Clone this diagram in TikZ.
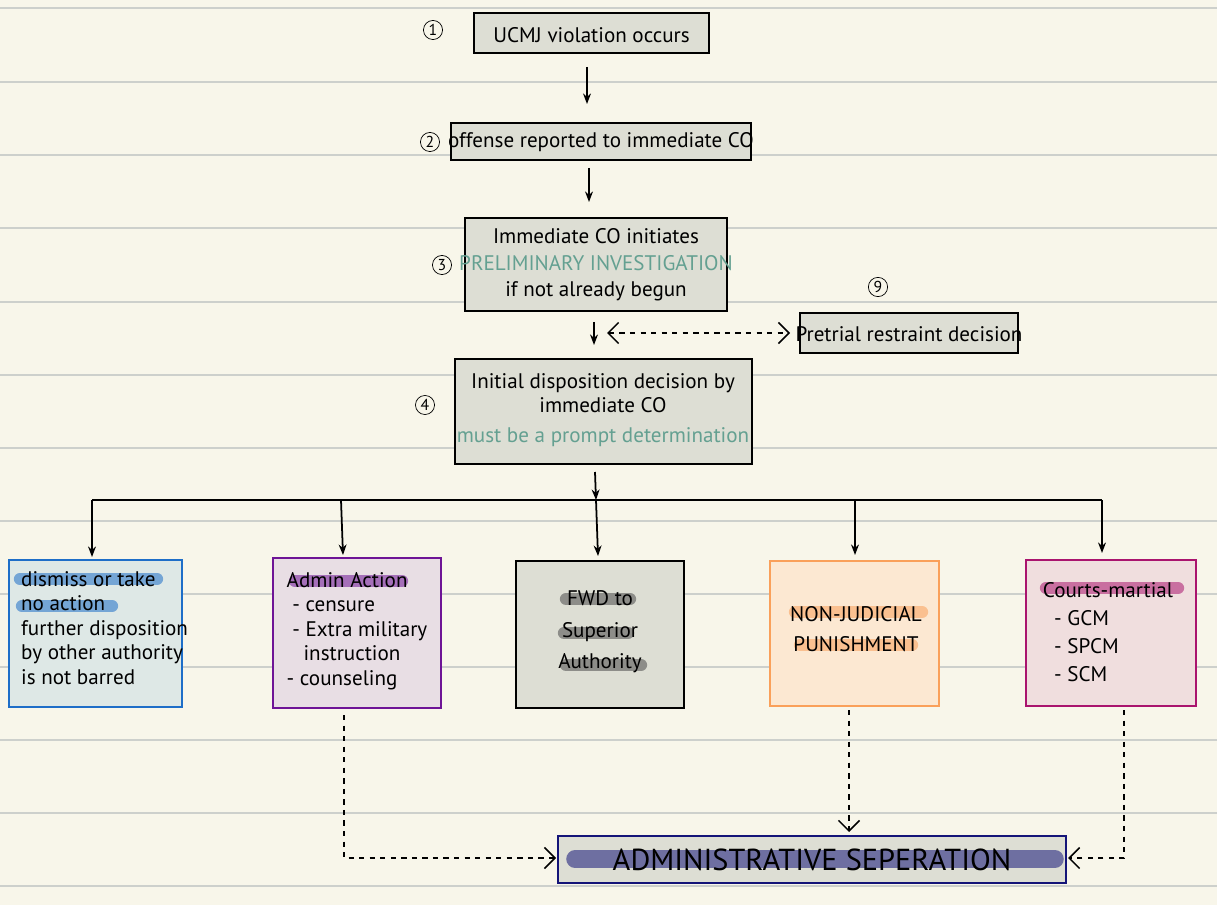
\documentclass[tikz,border=0pt]{standalone}
\usepackage{fontspec}
\setmainfont{PT Sans}
\usetikzlibrary{arrows.meta}
\definecolor{bg}{RGB}{248,246,234}
\definecolor{rule}{RGB}{205,208,204}
\definecolor{boxg}{RGB}{221,222,212}
\definecolor{teal}{RGB}{100,160,145}
\definecolor{bblue}{RGB}{30,110,200}
\definecolor{bluef}{RGB}{222,232,230}
\definecolor{purp}{RGB}{110,20,150}
\definecolor{purpf}{RGB}{232,222,228}
\definecolor{orng}{RGB}{250,160,90}
\definecolor{orngf}{RGB}{252,232,210}
\definecolor{mag}{RGB}{170,20,110}
\definecolor{magf}{RGB}{240,222,222}
\definecolor{navy}{RGB}{20,20,120}
\begin{document}
\begin{tikzpicture}[x=0.02cm,y=-0.02cm,
  num/.style={draw,circle,inner sep=1pt,font=\small},
  arr/.style={-{Stealth[length=6pt]},line width=1pt},
  darr/.style={-{Straight Barb[length=6pt]},dashed,line width=0.9pt},
  hl/.style={line width=7pt,opacity=0.55,line cap=round}]
\fill[bg] (0,0) rectangle (1217,905);
\useasboundingbox (0,0) rectangle (1217,905);
\foreach \y in {8,82,155,228,302,375,448,521,594,667,740,813,886}
  \draw[rule,line width=1.2pt] (0,\y) -- (1217,\y);
% main chain
\draw[line width=1pt,fill=boxg] (474,13) rectangle (709,53);
\node[font=\large] (t1) at (591.5,35) {UCMJ violation occurs};
\node[num] (c1) at (433,30) {1};
\draw[line width=1pt,fill=boxg] (451,123) rectangle (751,160);
\node[font=\large] (t2) at (601,142) {offense reported to immediate CO};
\node[num] (c2) at (430,142) {2};
\draw[line width=1pt,fill=boxg] (465,218) rectangle (727,311);
\node[align=center,font=\large] (t3) at (596,265) {Immediate CO initiates\\[1pt] \textcolor{teal}{PRELIMINARY INVESTIGATION}\\[1pt] if not already begun};
\node[num] (c3) at (442,265) {3};
\draw[line width=1pt,fill=boxg] (800,313) rectangle (1018,353);
\node[font=\large] (t9) at (909,334) {Pretrial restraint decision};
\node[num] (c9) at (878,287) {9};
\draw[line width=1pt,fill=boxg] (455,359) rectangle (752,464);
\node[align=center,font=\large] (t4) at (603,410) {Initial disposition decision by\\ immediate CO\\[3pt] \textcolor{teal}{must be a prompt determination}};
\node[num] (c4) at (425,405) {4};
\coordinate (a1) at (587,67); \coordinate (b1) at (587,104);
\draw[arr] (a1) -- (b1);
\coordinate (a2) at (589,168); \coordinate (b2) at (589,202);
\draw[arr] (a2) -- (b2);
\coordinate (a3) at (594,322); \coordinate (b3) at (594,345);
\draw[arr] (a3) -- (b3);
\coordinate (d1) at (607,333); \coordinate (d2) at (790,333);
\draw[dashed,line width=0.9pt,{Straight Barb[length=6pt]}-{Straight Barb[length=6pt]}] (d1) -- (d2);
% branch
\coordinate (s) at (595,472); \coordinate (j) at (596,500);
\draw[arr] (s) -- (j);
\draw[line width=1pt] (92,500) -- (1102,500);
\coordinate (jA) at (92,500); \coordinate (eA) at (92,557);
\coordinate (jB) at (341,500); \coordinate (eB) at (343,555);
\coordinate (eC) at (598,556);
\coordinate (jD) at (855,500); \coordinate (eD) at (855,555);
\coordinate (jE) at (1102,500); \coordinate (eE) at (1102,553);
\draw[arr] (jA) -- (eA); \draw[arr] (jB) -- (eB); \draw[arr] (j) -- (eC);
\draw[arr] (jD) -- (eD); \draw[arr] (jE) -- (eE);
% bottom boxes
\draw[bblue,line width=1.2pt,fill=bluef] (9,560) rectangle (182,707);
\draw[bblue,hl] (20,579) -- (157,579); \draw[bblue,hl] (22,606) -- (112,606);
\node[align=left,anchor=north west,font=\large] (tA) at (15,565) {dismiss or take\\ no action\\ further disposition\\ by other authority\\ is not barred};
\draw[purp,line width=1.2pt,fill=purpf] (273,558) rectangle (441,708);
\draw[purp,hl] (295,581) -- (402,581);
\node[align=left,anchor=north,font=\large] (tB) at (357,566) {Admin Action\\ \ - censure\\ \ - Extra military\\ \ \ \ instruction\\ - counseling};
\draw[black,line width=1.2pt,fill=boxg] (516,561) rectangle (684,708);
\draw[black!70,hl] (566,599) -- (630,599); \draw[black!70,hl] (564,633) -- (628,633); \draw[black!70,hl] (566,665) -- (641,665);
\node[align=center,font=\large] (tC) at (600,632) {FWD to\\[4pt] Superior\\[4pt] Authority};
\draw[orng,line width=1.2pt,fill=orngf] (770,561) rectangle (939,706);
\draw[orng,hl] (795,612) -- (922,612); \draw[orng,hl] (800,645) -- (912,645);
\node[align=center,font=\large] (tD) at (856,629) {NON-JUDICIAL\\[3pt] PUNISHMENT};
\draw[mag,line width=1.2pt,fill=magf] (1026,560) rectangle (1196,706);
\draw[mag,hl] (1046,588) -- (1178,588);
\node[align=left,anchor=north,font=\large] (tE) at (1108,576) {Courts-martial\\[2pt] \ \ - GCM\\[2pt] \ \ - SPCM\\[2pt] \ \ - SCM};
\draw[navy,line width=1.2pt,fill=boxg] (558,836) rectangle (1066,883);
\draw[navy,line width=10pt,opacity=0.55,line cap=round] (575,859) -- (1055,859);
\node[font=\LARGE] (tS) at (812,860) {ADMINISTRATIVE SEPERATION};
\coordinate (sB) at (344,715); \coordinate (kB) at (344,858); \coordinate (eSB) at (556,858);
\draw[darr] (sB) -- (kB) -- (eSB);
\coordinate (sD) at (849,710); \coordinate (eSD) at (849,832);
\draw[darr] (sD) -- (eSD);
\coordinate (sE) at (1124,710); \coordinate (kE) at (1124,858); \coordinate (eSE) at (1068,858);
\draw[darr] (sE) -- (kE) -- (eSE);
\end{tikzpicture}
\end{document}
